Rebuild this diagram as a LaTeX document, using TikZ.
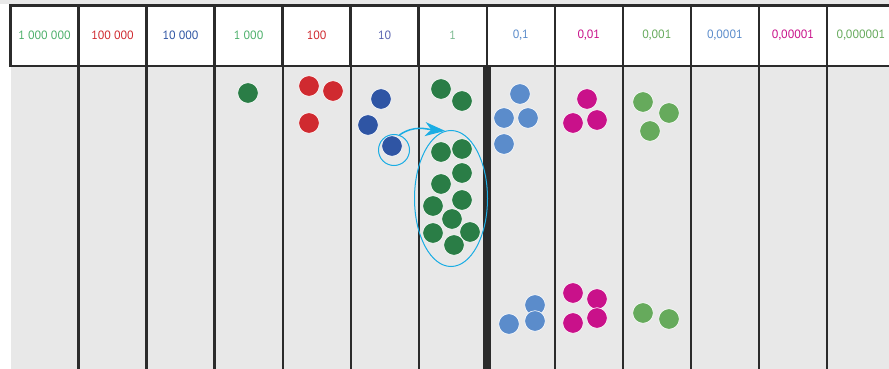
\documentclass[tikz,border=0pt]{standalone}
\usepackage{fontspec}
\setmainfont{PT Sans}
\usetikzlibrary{shapes.geometric,arrows.meta}
\definecolor{bodygray}{HTML}{E8E8E8}
\definecolor{rulegray}{HTML}{2B2B2B}
\definecolor{darkgreen}{HTML}{2A7D46}
\definecolor{headgreen}{HTML}{4DB06B}
\definecolor{palegreen}{HTML}{7DBB92}
\definecolor{midgreen}{HTML}{66AA5C}
\definecolor{darkred}{HTML}{D02A30}
\definecolor{darkblue}{HTML}{2F55A4}
\definecolor{slateblue}{HTML}{5A63B0}
\definecolor{lightblue}{HTML}{5B8CCB}
\definecolor{magenta}{HTML}{C9118A}
\definecolor{carrycyan}{HTML}{1AADE4}
\tikzset{
  dot/.style={fill=#1, draw=white, line width=0.6pt},
  collabel/.style={font=\fontsize{12}{14}\selectfont, text=#1},
}
\begin{document}
\begin{tikzpicture}[x=1pt,y=-1pt]
        \useasboundingbox (0,0) rectangle (889,369);

        % Background strips
        \fill[bodygray] (0,0) rectangle (889,4);
        \fill[bodygray] (11,67) rectangle (889,369);
        \fill[white] (10,5) rectangle (889,66);

        % Header row
        \draw[rulegray, line width=2.5pt] (9.3,5.5) -- (895,5.5);
        \draw[rulegray, line width=2.5pt] (9.3,66) -- (895,66);
        \foreach \i in {0,...,12}
            \draw[rulegray, line width=2.5pt] ({10.5+68.04*\i},5.5) -- ({10.5+68.04*\i},66);
        \foreach \i/\txt/\col in {0/1 000 000/headgreen, 1/100 000/darkred, 2/10 000/darkblue,
                3/1 000/headgreen, 4/100/darkred, 5/10/slateblue, 6/1/palegreen,
                7/{0,1}/lightblue, 8/{0,01}/magenta, 9/{0,001}/midgreen,
                10/{0,0001}/lightblue, 11/{0,00001}/magenta, 12/{0,000001}/midgreen}
            \node[collabel=\col] (head\i) at ({44.5+68.04*\i},35.5) {\txt};

        % Column rules below the header
        \foreach \i in {1,...,6,8,9,...,12}
            \draw[rulegray, line width=2.3pt] ({10.5+68.04*\i},67) -- ({10.5+68.04*\i},369);
        \fill[rulegray] (483.3,67) rectangle (491,369);

        % Counters, upper row
        \path[dot=darkgreen] (248,93) circle (10.3);
        \foreach \p in {(309,86),(333,91),(309,123)}
            \path[dot=darkred] \p circle (10.3);
        \foreach \p in {(381,99),(368,125),(392,146)}
            \path[dot=darkblue] \p circle (10.3);
        \foreach \p in {(441,89),(462,101),
                (441,152),(462,149),(462,173),(441,184),(433,206),
                (462,200),(452,219),(433,233),(470,232),(454,245)}
            \path[dot=darkgreen] \p circle (10.3);
        \foreach \p in {(520,94),(504,118),(528,118),(504,144)}
            \path[dot=lightblue] \p circle (10.3);
        \foreach \p in {(587,99),(573,123),(597,120)}
            \path[dot=magenta] \p circle (10.3);
        \foreach \p in {(643,102),(669,113),(650,131)}
            \path[dot=midgreen] \p circle (10.3);

        % Counters, lower row
        \foreach \p in {(509,324),(535,305),(535,321)}
            \path[dot=lightblue] \p circle (10.3);
        \foreach \p in {(573,293),(597,299),(573,323),(597,318)}
            \path[dot=magenta] \p circle (10.3);
        \foreach \p in {(643,313),(669,319)}
            \path[dot=midgreen] \p circle (10.3);

        % Exchange: one ten into ten ones
        \node[draw=carrycyan, line width=1pt, circle, minimum size=31pt, inner sep=0pt] (carry) at (394,150) {};
        \node[draw=carrycyan, line width=1pt, ellipse, minimum width=73pt, minimum height=136pt, inner sep=0pt] (group) at (451,198.5) {};
        \draw[carrycyan, line width=1.5pt, -{Stealth[length=20pt,width=14pt,inset=6pt]}]
            (carry.70) to[out=35,in=175] (group.95);
\end{tikzpicture}
\end{document}
